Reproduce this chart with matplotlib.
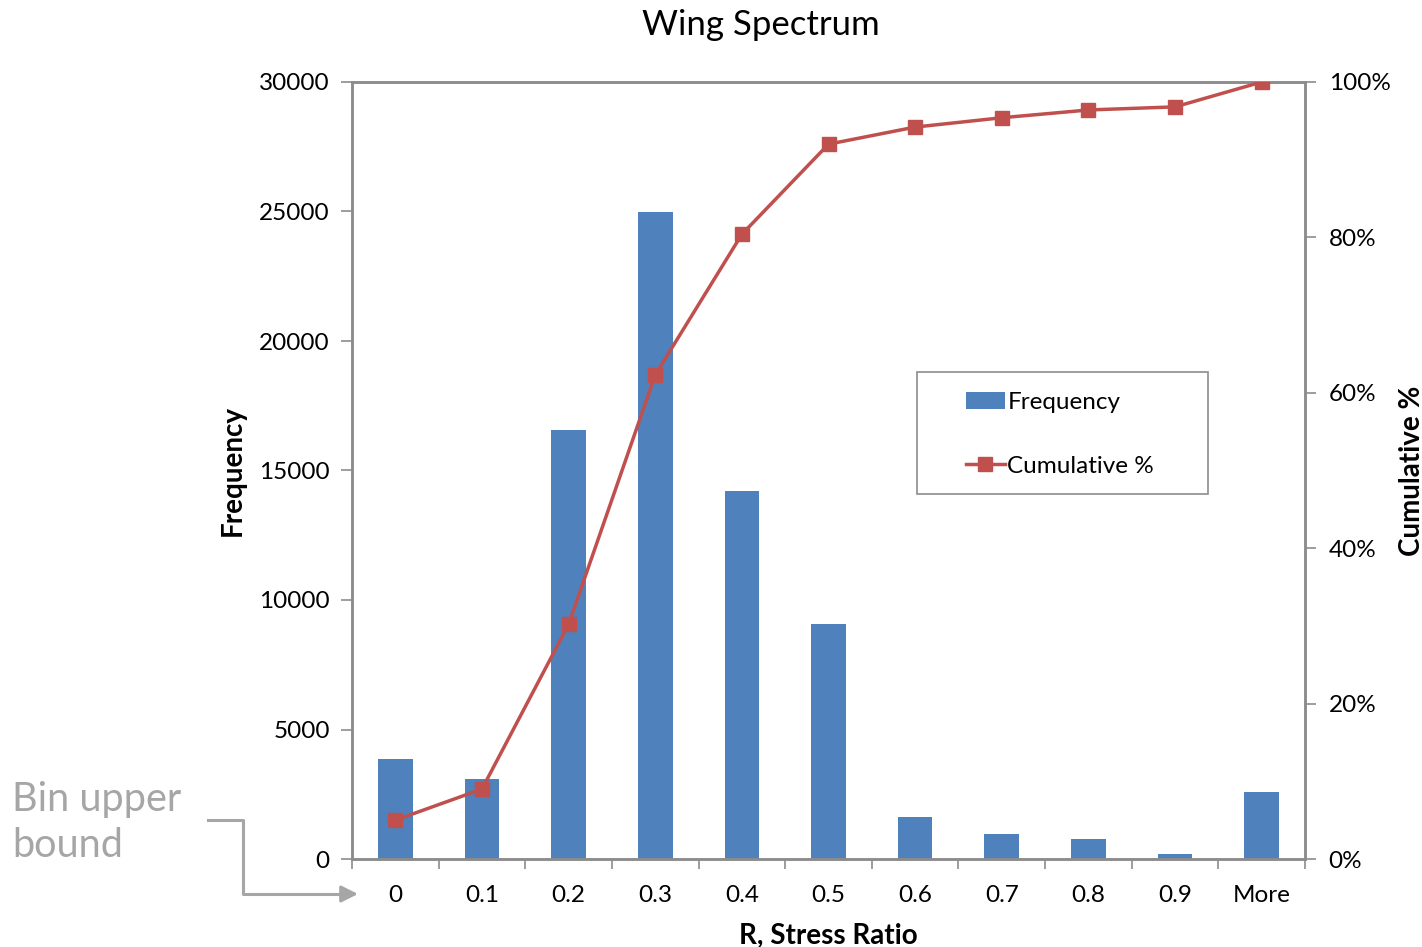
from matplotlib import pyplot as plt
from matplotlib.patches import Patch, Rectangle
from matplotlib.lines import Line2D
from matplotlib.ticker import FuncFormatter
import numpy as np

plt.rcParams['font.family'] = ['Lato', 'DejaVu Sans']

# histogram bins (upper bounds) and counts
bins = ['0', '0.1', '0.2', '0.3', '0.4', '0.5', '0.6', '0.7', '0.8', '0.9', 'More']
frequency = [3860, 3090, 16560, 24980, 14210, 9070, 1620, 965, 770, 195, 2590]
cumulative_pct = [5.0, 9.0, 30.2, 62.3, 80.4, 92.0, 94.2, 95.4, 96.4, 96.8, 100.0]

bar_color = '#4F81BD'
line_color = '#C0504D'
frame_gray = '#8C8C8C'
note_gray = '#A6A6A6'

fig = plt.figure(figsize=(14.22, 9.47), dpi=100)
ax = fig.add_axes([352 / 1422, 1 - 859 / 947, (1305 - 352) / 1422, (859 - 82) / 947])
x = np.arange(len(bins))

ax.bar(x, frequency, width=0.4, color=bar_color, zorder=2)
ax.set_xlim(-0.5, len(bins) - 0.5)
ax.set_ylim(0, 30000)
ax.set_yticks(np.arange(0, 30001, 5000))
ax.set_xticks(x)
ax.set_xticklabels(bins)
# ticks sit between categories
ax.set_xticks(np.arange(-0.5, len(bins), 1), minor=True)
ax.tick_params(axis='x', which='major', length=0, pad=19, labelsize=17.5)
ax.tick_params(axis='x', which='minor', length=7, width=1.2, color=frame_gray, direction='out')
ax.tick_params(axis='y', length=8, width=1.2, color=frame_gray, labelsize=17.5, pad=8)
for s in ax.spines.values():
    s.set_color(frame_gray)
    s.set_linewidth(1.8)

ax2 = ax.twinx()
ax2.plot(x, cumulative_pct, color=line_color, lw=2.5, marker='s', ms=10, zorder=3)
ax2.set_ylim(0, 100)
ax2.set_yticks(np.arange(0, 101, 20))
ax2.yaxis.set_major_formatter(FuncFormatter(lambda v, p: '%d%%' % v))
ax2.tick_params(axis='y', length=8, width=1.2, color=frame_gray, labelsize=17.5, pad=9)
for s in ax2.spines.values():
    s.set_color(frame_gray)
    s.set_linewidth(1.8)

ax.set_xlabel('R, Stress Ratio', fontsize=20, fontweight='bold', labelpad=12)
ax.set_ylabel('Frequency', fontsize=20, fontweight='bold', labelpad=10)
ax2.set_ylabel('Cumulative %', fontsize=20, fontweight='bold', labelpad=6)
fig.text(761 / 1422, 1 - 25 / 947, 'Wing Spectrum', fontsize=25, ha='center', va='center')

# legend frame drawn separately so the padding can be set per side
ax2.add_patch(Rectangle(((917 - 352) / 953, (859 - 494) / 777), 291 / 953, 122 / 777,
                        transform=ax2.transAxes, facecolor='white', edgecolor=frame_gray,
                        lw=1.2, zorder=4))
handles = [Patch(facecolor=bar_color, edgecolor='none'),
           Line2D([], [], color=line_color, lw=2.5, marker='s', ms=10)]
leg = ax2.legend(handles, ['Frequency', 'Cumulative %'], loc='upper left',
                 bbox_to_anchor=((966 - 352) / 953, (859 - 392) / 777),
                 fontsize=17.5, frameon=False, borderpad=0,
                 labelspacing=1.75, handlelength=1.6, handletextpad=0.1,
                 borderaxespad=0)
leg.set_zorder(5)

# note pointing at the bin labels
fig.text(12 / 1422, 1 - 822 / 947, 'Bin upper\nbound', fontsize=28.5, color=note_gray,
         ha='left', va='center', linespacing=1.3)
fig.add_artist(Line2D([208 / 1422, 243 / 1422, 243 / 1422, 345 / 1422],
                      [1 - 820 / 947, 1 - 820 / 947, 1 - 894 / 947, 1 - 894 / 947],
                      color=note_gray, lw=2.2, transform=fig.transFigure))
ax.annotate('', xy=(358, 947 - 894), xytext=(340, 947 - 894),
            xycoords='figure pixels', textcoords='figure pixels',
            arrowprops=dict(arrowstyle='-|>,head_length=1.0,head_width=0.5',
                            color=note_gray, lw=2.2, shrinkA=0, shrinkB=0),
            annotation_clip=False)

fig.savefig('out.png', dpi=100)
